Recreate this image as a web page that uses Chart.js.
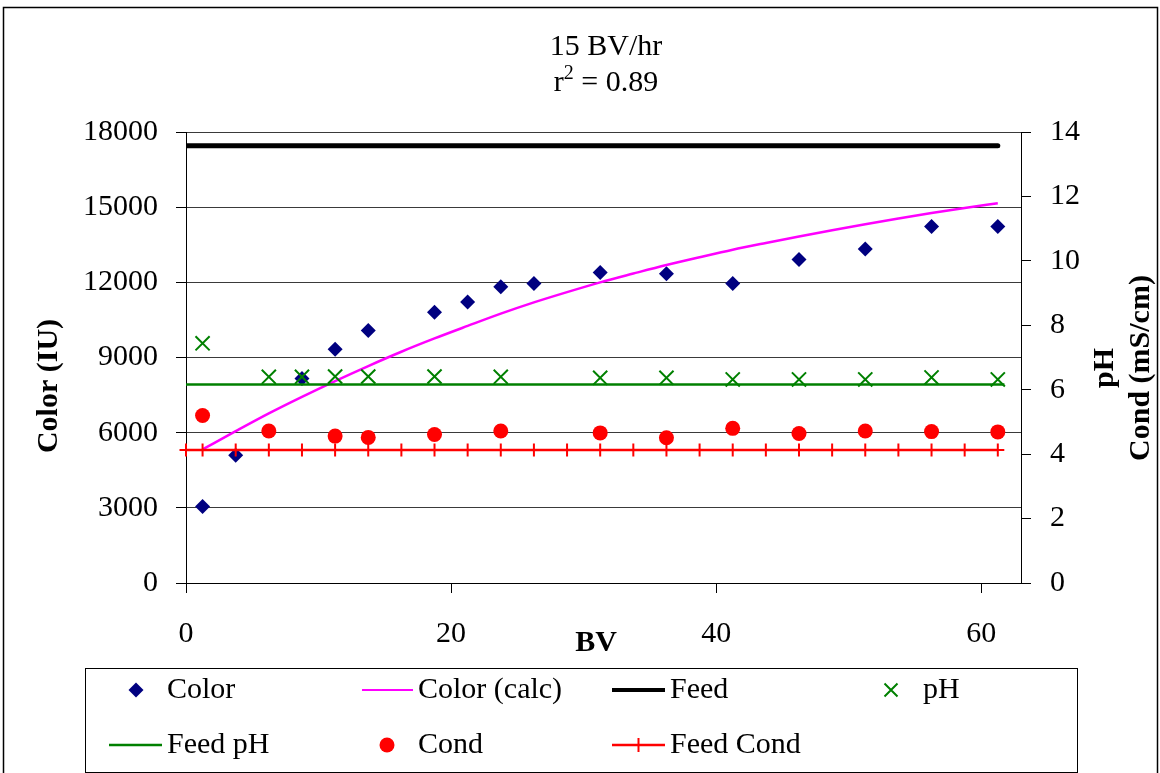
<!DOCTYPE html>
<html>
<head>
<meta charset="utf-8">
<title>15 BV/hr</title>
<script src="https://cdn.jsdelivr.net/npm/chart.js@4.4.1/dist/chart.umd.min.js"></script>
<style>
  html, body { margin: 0; padding: 0; background: #fff; }
  #wrap { width: 1160px; height: 773px; position: relative; }
</style>
</head>
<body>
<div id="wrap"><canvas id="chart" width="1160" height="773"></canvas></div>
<script>
// valores
const bvColor = [1.25, 3.75, 8.75, 11.25, 13.75, 18.75, 21.25, 23.75, 26.25, 31.25, 36.25, 41.25, 46.25, 51.25, 56.25, 61.25];
const colorIU = [3050, 5100, 8160, 9330, 10080, 10810, 11220, 11820, 11950, 12390, 12340, 11950, 12910, 13330, 14230, 14230];

const bvCalc = [1.25, 3.75, 6.25, 8.75, 11.25, 13.75, 16.25, 18.75, 21.25, 23.75, 26.25, 28.75, 31.25,
                33.75, 36.25, 38.75, 41.25, 43.75, 46.25, 48.75, 51.25, 53.75, 56.25, 58.75, 61.25];
const colorCalc = [5330, 6060, 6770, 7430, 8060, 8660, 9230, 9760, 10260, 10750, 11200, 11610, 12000,
                   12350, 12690, 13000, 13300, 13570, 13830, 14080, 14320, 14550, 14770, 14970, 15160];

const bvFeed = [0, 61.25];
const feedColor = [17450, 17450];

const bvPh = [1.25, 6.25, 8.75, 11.25, 13.75, 18.75, 23.75, 31.25, 36.25, 41.25, 46.25, 51.25, 56.25, 61.25];
const phValues = [7.44, 6.40, 6.40, 6.41, 6.41, 6.41, 6.40, 6.37, 6.37, 6.32, 6.32, 6.32, 6.38, 6.32];

const bvFeedPh = [0, 61.75];
const feedPh = [6.16, 6.16];

const bvCond = [1.25, 6.25, 11.25, 13.75, 18.75, 23.75, 31.25, 36.25, 41.25, 46.25, 51.25, 56.25, 61.25];
const condValues = [5.20, 4.72, 4.56, 4.52, 4.61, 4.72, 4.66, 4.51, 4.80, 4.64, 4.72, 4.70, 4.69];

const bvFeedCond = [0, 1.25, 3.75, 6.25, 8.75, 11.25, 13.75, 16.25, 18.75, 21.25, 23.75, 26.25, 28.75, 31.25,
                    33.75, 36.25, 38.75, 41.25, 43.75, 46.25, 48.75, 51.25, 53.75, 56.25, 58.75, 61.25];
const feedCond = [4.13, 4.13, 4.13, 4.13, 4.13, 4.13, 4.13, 4.13, 4.13, 4.13, 4.13, 4.13, 4.13, 4.13,
                  4.13, 4.13, 4.13, 4.13, 4.13, 4.13, 4.13, 4.13, 4.13, 4.13, 4.13, 4.13];

const xTicks = [0, 20, 40, 60];

const SERIF = "'Liberation Serif', 'Times New Roman', serif";

function pts(xs, ys) {
    return xs.map((x, i) => ({ x: x, y: ys[i] }));
}

// simbolos de la leyenda
function drawSymbol(ctx, kind, x, y) {
    ctx.save();
    if (kind === 'diamond') {
        ctx.fillStyle = '#000080';
        ctx.beginPath();
        ctx.moveTo(x - 7.5, y); ctx.lineTo(x, y - 7.5); ctx.lineTo(x + 7.5, y); ctx.lineTo(x, y + 7.5);
        ctx.closePath(); ctx.fill();
    } else if (kind === 'x') {
        ctx.strokeStyle = '#008000'; ctx.lineWidth = 2;
        ctx.beginPath();
        ctx.moveTo(x - 6.5, y - 6.5); ctx.lineTo(x + 6.5, y + 6.5);
        ctx.moveTo(x + 6.5, y - 6.5); ctx.lineTo(x - 6.5, y + 6.5);
        ctx.stroke();
    } else if (kind === 'circle') {
        ctx.fillStyle = '#FF0000';
        ctx.beginPath(); ctx.arc(x, y, 7.5, 0, Math.PI * 2); ctx.fill();
    }
    ctx.restore();
}

function drawLineSym(ctx, color, width, x1, x2, y, plus) {
    ctx.save();
    ctx.strokeStyle = color; ctx.lineWidth = width;
    ctx.beginPath(); ctx.moveTo(x1, y); ctx.lineTo(x2, y); ctx.stroke();
    if (plus) {
        const cx = (x1 + x2) / 2;
        ctx.lineWidth = 2;
        ctx.beginPath(); ctx.moveTo(cx, y - 7); ctx.lineTo(cx, y + 7); ctx.stroke();
    }
    ctx.restore();
}

const decorPlugin = {
    id: 'decor',
    beforeDraw(chart) {
        const ctx = chart.ctx;
        ctx.save();
        ctx.fillStyle = '#fff';
        ctx.fillRect(0, 0, chart.width, chart.height);
        ctx.strokeStyle = '#000';
        ctx.lineWidth = 1.5;
        ctx.strokeRect(3.5, 7.5, 1154, 800);
        ctx.restore();
    },
    afterDraw(chart) {
        const ctx = chart.ctx;
        ctx.save();
        ctx.fillStyle = '#000';
        ctx.textBaseline = 'middle';

        // titulo
        ctx.font = '30px ' + SERIF;
        ctx.textAlign = 'center';
        ctx.fillText('15 BV/hr', 606, 47);

        // r^2 = 0.89 con superindice
        ctx.textAlign = 'left';
        const p1 = 'r', p3 = ' = 0.89';
        ctx.font = '30px ' + SERIF;
        const w1 = ctx.measureText(p1).width;
        const w3 = ctx.measureText(p3).width;
        ctx.font = '20px ' + SERIF;
        const w2 = ctx.measureText('2').width;
        let x = 606 - (w1 + w2 + w3) / 2;
        ctx.font = '30px ' + SERIF;
        ctx.fillText(p1, x, 83);
        ctx.font = '20px ' + SERIF;
        ctx.fillText('2', x + w1, 74);
        ctx.font = '30px ' + SERIF;
        ctx.fillText(p3, x + w1 + w2, 83);

        // titulos de ejes
        ctx.font = 'bold 30px ' + SERIF;
        ctx.textAlign = 'center';
        ctx.fillText('BV', 596, 643);

        ctx.save();
        ctx.translate(49, 386);
        ctx.rotate(-Math.PI / 2);
        ctx.fillText('Color (IU)', 0, 0);
        ctx.restore();

        ctx.save();
        ctx.translate(1105, 368);
        ctx.rotate(-Math.PI / 2);
        ctx.fillText('pH', 0, 0);
        ctx.restore();

        ctx.save();
        ctx.translate(1141, 368);
        ctx.rotate(-Math.PI / 2);
        ctx.fillText('Cond (mS/cm)', 0, 0);
        ctx.restore();

        // leyenda
        ctx.strokeStyle = '#000';
        ctx.lineWidth = 1;
        ctx.strokeRect(85.5, 668.5, 992, 104);

        const r1 = 690, r2 = 745;
        drawSymbol(ctx, 'diamond', 136, r1);
        drawLineSym(ctx, '#FF00FF', 2, 362, 413, r1, false);
        drawLineSym(ctx, '#000000', 4, 612, 665, r1, false);
        drawSymbol(ctx, 'x', 891, r1);
        drawLineSym(ctx, '#008000', 2.5, 109, 162, r2, false);
        drawSymbol(ctx, 'circle', 387, r2);
        drawLineSym(ctx, '#FF0000', 2.5, 612, 665, r2, true);

        ctx.font = '30px ' + SERIF;
        ctx.textAlign = 'left';
        ctx.fillStyle = '#000';
        ctx.fillText('Color', 167, r1);
        ctx.fillText('Color (calc)', 418, r1);
        ctx.fillText('Feed', 670, r1);
        ctx.fillText('pH', 923, r1);
        ctx.fillText('Feed pH', 167, r2);
        ctx.fillText('Cond', 418, r2);
        ctx.fillText('Feed Cond', 670, r2);

        ctx.restore();
    }
};

Chart.defaults.font.family = SERIF;
Chart.defaults.font.size = 30;
Chart.defaults.color = '#000';

const chart = new Chart(document.getElementById('chart').getContext('2d'), {
    type: 'scatter',
    data: {
        datasets: [
            {
                label: 'Color',
                data: pts(bvColor, colorIU),
                yAxisID: 'y',
                pointStyle: 'rectRot',
                pointRadius: 7.5,
                backgroundColor: '#000080',
                borderColor: '#000080',
                borderWidth: 0,
                order: 7
            },
            {
                label: 'Color (calc)',
                data: pts(bvCalc, colorCalc),
                yAxisID: 'y',
                showLine: true,
                pointRadius: 0,
                borderColor: '#FF00FF',
                borderWidth: 2.5,
                cubicInterpolationMode: 'monotone',
                order: 6
            },
            {
                label: 'Feed',
                data: pts(bvFeed, feedColor),
                yAxisID: 'y',
                showLine: true,
                pointRadius: 0,
                borderColor: '#000000',
                borderWidth: 5,
                borderCapStyle: 'round',
                order: 5
            },
            {
                label: 'pH',
                data: pts(bvPh, phValues),
                yAxisID: 'y1',
                pointStyle: 'crossRot',
                pointRadius: 10,
                borderColor: '#008000',
                borderWidth: 2,
                order: 4
            },
            {
                label: 'Feed pH',
                data: pts(bvFeedPh, feedPh),
                yAxisID: 'y1',
                showLine: true,
                pointRadius: 0,
                borderColor: '#008000',
                borderWidth: 2.5,
                order: 3
            },
            {
                label: 'Cond',
                data: pts(bvCond, condValues),
                yAxisID: 'y1',
                pointStyle: 'circle',
                pointRadius: 7.5,
                backgroundColor: '#FF0000',
                borderColor: '#FF0000',
                borderWidth: 0,
                order: 2
            },
            {
                label: 'Feed Cond',
                data: pts(bvFeedCond, feedCond),
                yAxisID: 'y1',
                showLine: true,
                pointStyle: 'cross',
                pointRadius: 6.5,
                pointBorderWidth: 2,
                borderColor: '#FF0000',
                borderWidth: 2.5,
                clip: false,
                order: 1
            }
        ]
    },
    options: {
        responsive: false,
        animation: false,
        devicePixelRatio: 1,
        layout: { padding: { top: 132, left: 0, right: 0, bottom: 0 } },
        plugins: {
            legend: { display: false },
            tooltip: { enabled: false },
            title: { display: false }
        },
        scales: {
            x: {
                type: 'linear',
                min: 0,
                max: 63,
                afterBuildTicks: s => { s.ticks = xTicks.map(v => ({ value: v })); },
                afterFit: s => { s.height = 190; },
                border: { display: true, color: '#000', width: 1 },
                grid: { drawOnChartArea: false, drawTicks: true, tickLength: 10, tickColor: '#000' },
                ticks: { padding: 23, maxRotation: 0, font: { size: 30, lineHeight: 1.2 }, callback: v => String(v) }
            },
            y: {
                position: 'left',
                min: 0,
                max: 18000,
                ticks: { stepSize: 3000, padding: 18, font: { size: 30 }, callback: v => String(v) },
                afterFit: s => { s.width = 186; },
                border: { display: true, color: '#000', width: 1 },
                grid: { color: '#3a3a3a', lineWidth: 1, drawTicks: true, tickLength: 10, tickColor: '#000' }
            },
            y1: {
                position: 'right',
                min: 0,
                max: 14,
                ticks: { stepSize: 2, padding: 19, font: { size: 30 }, callback: v => String(v) },
                afterFit: s => { s.width = 139; },
                border: { display: true, color: '#000', width: 1 },
                grid: { drawOnChartArea: false, drawTicks: true, tickLength: 10, tickColor: '#000' }
            }
        }
    },
    plugins: [decorPlugin]
});
</script>
</body>
</html>
